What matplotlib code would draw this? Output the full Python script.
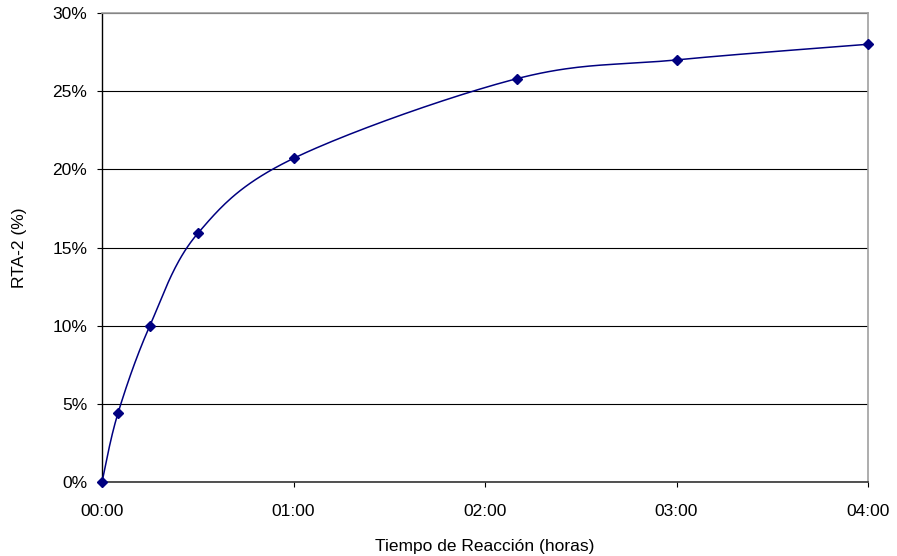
import numpy as np
import matplotlib
matplotlib.use("Agg")
import matplotlib.pyplot as plt
from matplotlib.ticker import FuncFormatter

# Data
times = ["00:00", "00:05", "00:15", "00:30", "01:00", "02:10", "03:00", "04:00"]
rta2 = [0.0, 4.4, 10.0, 15.9, 20.7, 25.8, 27.0, 28.0]
x_ticks = ["00:00", "01:00", "02:00", "03:00", "04:00"]
y_ticks = [0, 5, 10, 15, 20, 25, 30]

def to_hours(s):
    h, m = s.split(":")
    return int(h) + int(m) / 60.0

x = np.array([to_hours(t) for t in times])
y = np.array(rta2)

def smooth(xs, ys, n=40):
    # Catmull-Rom style cubic Bezier smoothing (spreadsheet "smoothed line")
    px = np.concatenate([[xs[0]], xs, [xs[-1]]])
    py = np.concatenate([[ys[0]], ys, [ys[-1]]])
    ox, oy = [], []
    for i in range(1, len(px) - 2):
        p0 = np.array([px[i - 1], py[i - 1]])
        p1 = np.array([px[i], py[i]])
        p2 = np.array([px[i + 1], py[i + 1]])
        p3 = np.array([px[i + 2], py[i + 2]])
        c1 = p1 + (p2 - p0) / 6.0
        c2 = p2 - (p3 - p1) / 6.0
        t = np.linspace(0, 1, n)[:, None]
        b = ((1 - t) ** 3) * p1 + 3 * ((1 - t) ** 2) * t * c1 + 3 * (1 - t) * t ** 2 * c2 + t ** 3 * p2
        ox.extend(b[:, 0]); oy.extend(b[:, 1])
    return np.array(ox), np.array(oy)

plt.rcParams['font.family'] = ['Liberation Sans', 'DejaVu Sans']

fig = plt.figure(figsize=(8.97, 5.56), dpi=100)
ax = fig.add_axes([102 / 897, 1 - 482 / 556, (868 - 102) / 897, (482 - 13) / 556])

sx, sy = smooth(x, y)
ax.plot(sx, sy, color="#000080", lw=1.1, zorder=3, clip_on=False)
ax.plot(x, y, linestyle="none", marker="D", markersize=4.6, color="#000080", zorder=4, clip_on=False)

ax.set_xlim(0, 4)
ax.set_ylim(0, 30)
ax.set_xticks([to_hours(t) for t in x_ticks])
ax.set_xticklabels(x_ticks)
ax.set_yticks(y_ticks)
ax.yaxis.set_major_formatter(FuncFormatter(lambda v, p: f"{int(round(v))}%"))

ax.grid(axis="y", color="#000000", lw=0.8)
ax.set_axisbelow(True)

for side in ["top", "right"]:
    ax.spines[side].set_color("#a0a0a0")
    ax.spines[side].set_linewidth(1.2)
ax.spines["left"].set_color("#000000")
ax.spines["bottom"].set_color("#333333")
ax.spines["left"].set_linewidth(1.0)
ax.spines["bottom"].set_linewidth(1.2)

ax.tick_params(axis="both", direction="out", length=3.6, width=0.8, labelsize=12.5, colors="#000000")
ax.tick_params(axis="x", pad=12)
ax.tick_params(axis="y", pad=7)

ax.set_xlabel("Tiempo de Reacción (horas)", fontsize=12.5, labelpad=15)
ax.set_ylabel("RTA-2 (%)", fontsize=12.5, labelpad=18)

fig.savefig("out.png", dpi=100)
